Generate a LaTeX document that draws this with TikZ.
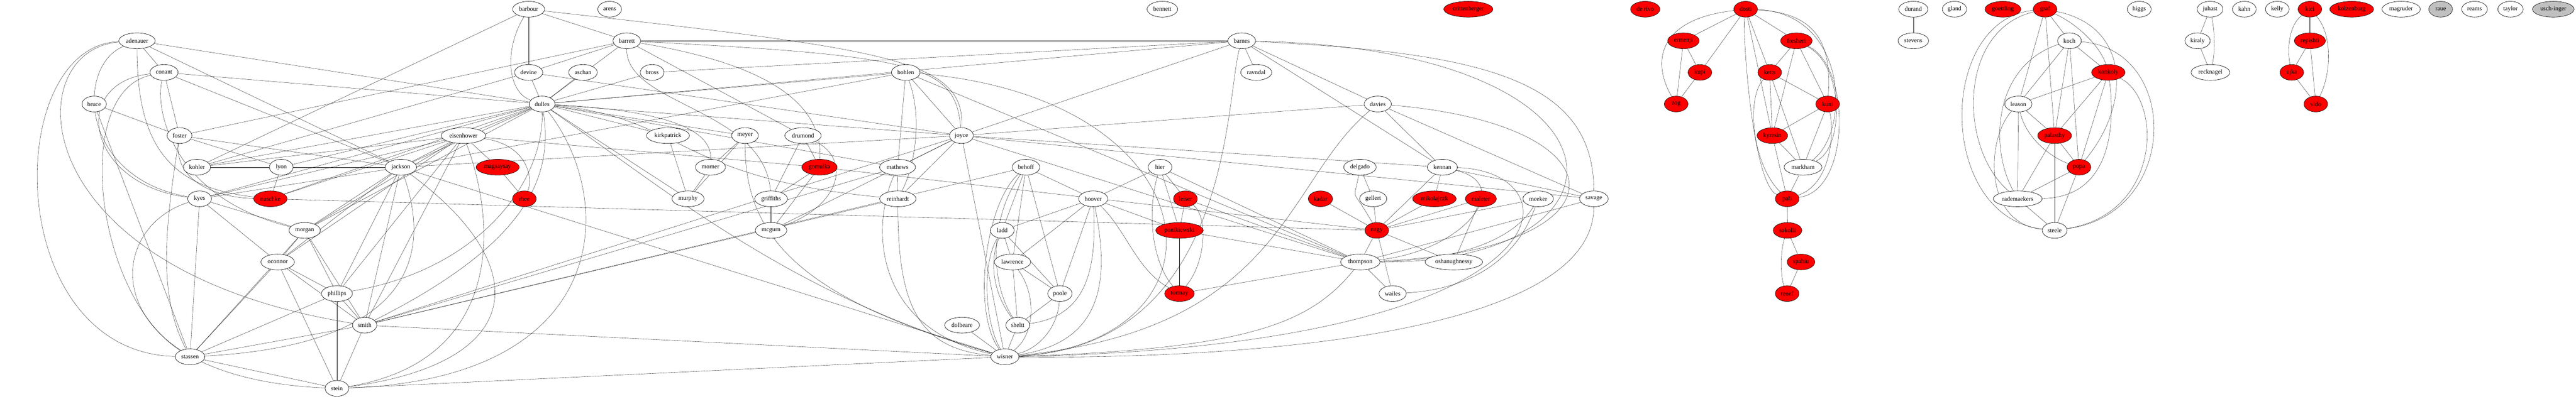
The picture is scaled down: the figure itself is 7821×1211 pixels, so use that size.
\documentclass[tikz,border=0pt]{standalone}
\usepackage{fontspec}
\setmainfont{Liberation Serif}
\usetikzlibrary{shapes.geometric}
\definecolor{gvgray}{RGB}{192,192,192}
\pgfdeclarelayer{edges}
\pgfsetlayers{edges,main}
\begin{document}
\begin{tikzpicture}[x=0.75pt,y=-0.75pt,line width=0.75pt,
  gv/.style={ellipse,draw,fill=white,minimum height=36pt,minimum width=54pt,inner xsep=4pt,inner ysep=2pt,font=\fontsize{14}{16}\selectfont},
  rednode/.style={gv,fill=red},
  greynode/.style={gv,fill=gvgray}]
\useasboundingbox (0,0) rectangle (7821,1211);

% row 0
\node[gv] (barbour) at (1605,28) {barbour};
\node[gv] (arens) at (1851,28) {arens};
\node[gv] (bennett) at (3529,28) {bennett};
\node[rednode] (crittenberger) at (4458,28) {crittenberger};
\node[rednode] (derivo) at (4995,28) {de rivo};
\node[rednode] (dosti) at (5300,28) {dosti};
\node[gv] (durand) at (5809,28) {durand};
\node[gv] (gland) at (5934,28) {gland};
\node[rednode] (goettling) at (6081,28) {goettling};
\node[rednode] (graf) at (6209,28) {graf};
\node[gv] (higgs) at (6495,28) {higgs};
\node[gv] (juhast) at (6710,28) {juhast};
\node[gv] (kahn) at (6814,28) {kahn};
\node[gv] (kelly) at (6914,28) {kelly};
\node[rednode] (kici) at (7013,28) {kici};
\node[rednode] (kolzenburg) at (7140,28) {kolzenburg};
\node[gv] (magruder) at (7290,28) {magruder};
\node[greynode] (raue) at (7410,28) {raue};
\node[gv] (reams) at (7513,28) {reams};
\node[gv] (taylor) at (7622,28) {taylor};
\node[greynode] (uschinger) at (7752,28) {usch-inger};

% row 1
\node[gv] (adenauer) at (416,124) {adenauer};
\node[gv] (barrett) at (1903,124) {barrett};
\node[gv] (barnes) at (3770,124) {barnes};
\node[rednode] (ermenji) at (5111,124) {ermenji};
\node[rednode] (fresheri) at (5454,124) {fresheri};
\node[gv] (stevens) at (5809,124) {stevens};
\node[gv] (koch) at (6283,124) {koch};
\node[gv] (kiraly) at (6672,124) {kiraly};
\node[rednode] (repishti) at (7013,124) {repishti};

% row 2
\node[gv] (conant) at (498,220) {conant};
\node[gv] (devine) at (1605,220) {devine};
\node[gv] (aschan) at (1770,220) {aschan};
\node[gv] (bross) at (1980,220) {bross};
\node[gv] (bohlen) at (2750,220) {bohlen};
\node[gv] (ravndal) at (3814,220) {ravndal};
\node[rednode] (kupi) at (5161,220) {kupi};
\node[rednode] (ketts) at (5373,220) {ketts};
\node[rednode] (konkoly) at (6401,220) {konkoly};
\node[gv] (recknagel) at (6711,220) {recknagel};
\node[rednode] (ujka) at (6958,220) {ujka};

% row 3
\node[gv] (bruce) at (286,316) {bruce};
\node[gv] (dulles) at (1646,316) {dulles};
\node[gv] (davies) at (4183,316) {davies};
\node[rednode] (zog) at (5089,316) {zog};
\node[rednode] (kuni) at (5549,316) {kuni};
\node[gv] (leason) at (6128,316) {leason};
\node[rednode] (vido) at (7031,316) {vido};

% row 4
\node[gv] (foster) at (545,412) {foster};
\node[gv] (eisenhower) at (1407,412) {eisenhower};
\node[gv] (kirkpatrick) at (2028,412) {kirkpatrick};
\node[gv] (meyer) at (2262,412) {meyer};
\node[gv] (drumond) at (2438,412) {drumond};
\node[gv] (joyce) at (2919,412) {joyce};
\node[rednode] (kyresin) at (5381,412) {kyresin};
\node[rednode] (palasthy) at (6238,412) {palasthy};

% row 5
\node[gv] (kohler) at (598,508) {kohler};
\node[gv] (lyon) at (854,508) {lyon};
\node[gv] (jackson) at (1217,508) {jackson};
\node[rednode] (magsaysay) at (1511,508) {magsaysay};
\node[gv] (morner) at (2157,508) {morner};
\node[rednode] (gomulka) at (2488,508) {gomulka};
\node[gv] (mathews) at (2725,508) {mathews};
\node[gv] (behoff) at (3115,508) {behoff};
\node[gv] (hier) at (3522,508) {hier};
\node[gv] (delgado) at (4129,508) {delgado};
\node[gv] (kennan) at (4379,508) {kennan};
\node[gv] (markham) at (5474,508) {markham};
\node[rednode] (popa) at (6312,508) {popa};

% row 6
\node[gv] (kyes) at (606,604) {kyes};
\node[rednode] (nuschke) at (821,604) {nuschke};
\node[rednode] (rhee) at (1592,604) {rhee};
\node[gv] (murphy) at (2089,604) {murphy};
\node[gv] (griffiths) at (2341,604) {griffiths};
\node[gv] (reinhardt) at (2726,604) {reinhardt};
\node[gv] (hoover) at (3319,604) {hoover};
\node[rednode] (leiser) at (3599,604) {leiser};
\node[rednode] (kadar) at (4009,604) {kadar};
\node[gv] (gellert) at (4169,604) {gellert};
\node[rednode] (mikolajczk) at (4355,604) {mikolajczk};
\node[rednode] (maleter) at (4496,604) {maleter};
\node[gv] (meeker) at (4670,604) {meeker};
\node[gv] (savage) at (4839,604) {savage};
\node[rednode] (pali) at (5426,604) {pali};
\node[gv] (rademaekers) at (6126,604) {rademaekers};

% row 7
\node[gv] (morgan) at (925,700) {morgan};
\node[gv] (mcgurn) at (2341,700) {mcgurn};
\node[gv] (ladd) at (3043,700) {ladd};
\node[rednode] (ponikiewski) at (3581,700) {ponikiewski};
\node[rednode] (nagy) at (4180,700) {nagy};
\node[rednode] (sokolli) at (5427,700) {sokolli};
\node[gv] (steele) at (6238,700) {steele};

% row 8
\node[gv] (oconnor) at (843,796) {oconnor};
\node[gv] (lawrence) at (3074,796) {lawrence};
\node[gv] (thompson) at (4130,796) {thompson};
\node[gv] (oshanughnessy) at (4414,796) {oshanughnessy};
\node[rednode] (spahiu) at (5468,796) {spahiu};

% row 9
\node[gv] (phillips) at (1023,892) {phillips};
\node[gv] (poole) at (3218,892) {poole};
\node[rednode] (tormay) at (3581,892) {tormay};
\node[gv] (wailes) at (4228,892) {wailes};
\node[rednode] (tenef) at (5426,892) {tenef};

% rows 10-12
\node[gv] (smith) at (1107,988) {smith};
\node[gv] (dolbeare) at (2921,988) {dolbeare};
\node[gv] (sheltt) at (3090,988) {sheltt};
\node[gv] (stassen) at (577,1084) {stassen};
\node[gv] (wisner) at (3051,1084) {wisner};
\node[gv] (stein) at (1023,1180) {stein};

\begin{pgfonlayer}{edges}
% left group
\draw (adenauer) -- (conant);
\draw (adenauer) -- (dulles);
\draw (adenauer) -- (jackson);
\draw (adenauer) .. controls (230,200) and (240,540) .. (kyes);
\draw (adenauer) .. controls (416,450) and (520,570) .. (nuschke);
\draw (adenauer) .. controls (6,140) and (6,1070) .. (stassen);
\draw (adenauer) .. controls (55,150) and (60,820) .. (smith);
\draw (conant) -- (dulles);
\draw (conant) -- (foster);
\draw (conant) .. controls (210,250) and (260,560) .. (kyes);
\draw (conant) .. controls (215,280) and (290,900) .. (stassen);
\draw (conant) -- (jackson);
\draw (conant) .. controls (470,330) and (520,600) .. (morgan);
\draw (bruce) -- (foster);
\draw (bruce) -- (stassen);
\draw (foster) -- (barrett);
\draw (foster) -- (jackson);
\draw (foster) -- (lyon);
\draw (foster) .. controls (500,700) and (480,900) .. (stassen);
\draw (foster) .. controls (530,540) and (640,600) .. (nuschke);
\draw (kohler) -- (barbour);
\draw (kohler) -- (devine);
\draw (kohler) -- (dulles);
\draw (kohler) -- (eisenhower);
\draw (kohler) -- (jackson);
\draw (kyes) -- (stassen);
\draw (kyes) -- (morgan);
\draw (kyes) -- (oconnor);
\draw (kyes) .. controls (300,700) and (300,1150) .. (stein);
\draw (kyes) -- (dulles);
\draw (kyes) -- (eisenhower);
\draw (lyon) -- (dulles);
\draw (lyon) -- (nuschke);
\draw (nuschke) -- (dulles);
\draw (nuschke) -- (eisenhower);
\draw (nuschke) -- (nagy);
\draw (barbour) -- (devine);
\draw (barbour) .. controls (1530,150) and (1540,280) .. (dulles);
\draw (barbour) -- (barrett);
\draw (barbour) .. controls (2700,150) and (2930,180) .. (joyce);
\draw (barrett) -- (devine);
\draw (barrett) -- (dulles);
\draw (barrett) .. controls (1900,320) and (2320,330) .. (griffiths);
\draw (barrett) .. controls (2300,190) and (2500,300) .. (gomulka);
\draw (barrett) -- (drumond);
\draw (barrett) -- (barnes);
\draw (barrett) .. controls (2800,170) and (2900,200) .. (joyce);
\draw (devine) -- (dulles);
\draw (devine) -- (joyce);
\draw (aschan) -- (dulles);
\draw (bross) -- (dulles);
\draw (bross) -- (barnes);
\draw (dulles) -- (barnes);
\draw (dulles) -- (bohlen);
\draw (dulles) -- (kirkpatrick);
\draw (dulles) -- (meyer);
\draw (dulles) .. controls (2100,340) and (2160,420) .. (morner);
\draw (dulles) .. controls (2080,360) and (2050,540) .. (reinhardt);
\draw (dulles) -- (joyce);
\draw (dulles) -- (murphy);
\draw (dulles) -- (mathews);
\draw (dulles) .. controls (2000,560) and (2400,900) .. (wisner);
\draw (dulles) .. controls (1870,600) and (1870,1150) .. (stein);
\draw (dulles) .. controls (1680,540) and (1600,740) .. (smith);
\draw (dulles) .. controls (1650,560) and (1450,820) .. (phillips);
\draw (dulles) -- (eisenhower);
\draw (dulles) -- (jackson);
\draw (dulles) -- (morgan);
\draw (eisenhower) -- (jackson);
\draw (eisenhower) -- (magsaysay);
\draw (eisenhower) .. controls (1600,440) and (1620,540) .. (rhee);
\draw (eisenhower) -- (morgan);
\draw (eisenhower) -- (oconnor);
\draw (eisenhower) -- (phillips);
\draw (eisenhower) -- (smith);
\draw (eisenhower) .. controls (1515,700) and (1515,1100) .. (stein);
\draw (eisenhower) -- (gomulka);
\draw (magsaysay) -- (rhee);
\draw (jackson) -- (bohlen);
\draw (jackson) -- (morgan);
\draw (jackson) -- (oconnor);
\draw (jackson) -- (phillips);
\draw (jackson) -- (smith);
\draw (jackson) .. controls (1320,800) and (1220,1050) .. (stassen);
\draw (jackson) .. controls (1615,800) and (1615,1100) .. (stein);
\draw (jackson) -- (wisner);
\draw (jackson) -- (kyes);
\draw (jackson) -- (joyce);
\draw (morgan) -- (oconnor);
\draw (morgan) -- (phillips);
\draw (morgan) -- (smith);
\draw (morgan) -- (stassen);
\draw (oconnor) -- (phillips);
\draw (oconnor) -- (smith);
\draw (oconnor) -- (stein);
\draw (oconnor) -- (stassen);
\draw (phillips) -- (smith);
\draw (phillips) -- (stein);
\draw (phillips) -- (stassen);
\draw (smith) -- (stein);
\draw (smith) -- (stassen);
\draw (smith) -- (wisner);
\draw (smith) -- (mathews);
\draw (smith) -- (reinhardt);
\draw (smith) -- (joyce);
\draw (smith) -- (behoff);
\draw (stein) -- (stassen);
\draw (stein) -- (wisner);
% middle group
\draw (bohlen) -- (joyce);
\draw (bohlen) -- (mathews);
\draw (bohlen) .. controls (2800,350) and (2780,500) .. (reinhardt);
\draw (bohlen) .. controls (3700,300) and (3760,1040) .. (wisner);
\draw (bohlen) -- (thompson);
\draw (joyce) -- (mathews);
\draw (joyce) -- (reinhardt);
\draw (joyce) -- (wisner);
\draw (joyce) -- (mcgurn);
\draw (joyce) -- (barnes);
\draw (joyce) -- (davies);
\draw (joyce) -- (kennan);
\draw (joyce) -- (savage);
\draw (joyce) -- (thompson);
\draw (mathews) -- (reinhardt);
\draw (mathews) .. controls (2640,700) and (2660,1000) .. (wisner);
\draw (reinhardt) .. controls (2726,950) and (2800,1060) .. (wisner);
\draw (drumond) -- (gomulka);
\draw (drumond) -- (griffiths);
\draw (drumond) .. controls (2580,480) and (2560,620) .. (mcgurn);
\draw (gomulka) -- (griffiths);
\draw (gomulka) -- (mcgurn);
\draw (gomulka) -- (nagy);
\draw (griffiths) -- (mcgurn);
\draw (meyer) -- (morner);
\draw (meyer) -- (murphy);
\draw (meyer) .. controls (2262,700) and (2400,900) .. (wisner);
\draw (morner) -- (murphy);
\draw (kirkpatrick) -- (murphy);
\draw (barnes) -- (ravndal);
\draw (barnes) -- (davies);
\draw (barnes) -- (kennan);
\draw (barnes) .. controls (5000,150) and (5000,800) .. (thompson);
\draw (barnes) .. controls (4500,160) and (4839,240) .. (savage);
\draw (barnes) .. controls (3720,300) and (3740,1050) .. (wisner);
\draw (davies) .. controls (3900,550) and (3900,1000) .. (wisner);
\draw (davies) -- (kennan);
\draw (davies) -- (savage);
\draw (davies) .. controls (4950,380) and (4950,760) .. (thompson);
\draw (kennan) -- (mikolajczk);
\draw (kennan) -- (nagy);
\draw (kennan) -- (savage);
\draw (kennan) .. controls (4600,560) and (4450,760) .. (thompson);
\draw (kennan) .. controls (4800,520) and (4790,1050) .. (wisner);
\draw (nagy) -- (kadar);
\draw (nagy) -- (gellert);
\draw (nagy) .. controls (4100,560) and (4110,620) .. (delgado);
\draw (nagy) -- (mikolajczk);
\draw (nagy) -- (maleter);
\draw (nagy) -- (meeker);
\draw (nagy) -- (thompson);
\draw (nagy) -- (wailes);
\draw (nagy) -- (oshanughnessy);
\draw (delgado) -- (gellert);
\draw (maleter) -- (oshanughnessy);
\draw (meeker) .. controls (4600,720) and (4450,790) .. (thompson);
\draw (meeker) .. controls (4600,800) and (4450,880) .. (wailes);
\draw (savage) -- (thompson);
\draw (savage) .. controls (4839,1050) and (3600,1090) .. (wisner);
\draw (thompson) -- (wailes);
\draw (thompson) -- (hier);
\draw (thompson) -- (leiser);
\draw (thompson) -- (ponikiewski);
\draw (thompson) -- (tormay);
\draw (thompson) .. controls (3980,980) and (3800,1060) .. (wisner);
\draw (hier) -- (hoover);
\draw (hier) -- (leiser);
\draw (hier) -- (ponikiewski);
\draw (hier) .. controls (3480,650) and (3500,800) .. (tormay);
\draw (leiser) -- (ponikiewski);
\draw (leiser) .. controls (3670,660) and (3660,800) .. (tormay);
\draw (ponikiewski) -- (tormay);
\draw (hoover) -- (ponikiewski);
\draw (hoover) .. controls (3420,700) and (3450,820) .. (tormay);
\draw (behoff) -- (hoover);
\draw (behoff) -- (poole);
\draw (behoff) -- (lawrence);
\draw (behoff) -- (ladd);
\draw (behoff) .. controls (2990,620) and (2950,950) .. (wisner);
\draw (behoff) .. controls (3010,650) and (3000,850) .. (sheltt);
\draw (hoover) -- (poole);
\draw (hoover) -- (lawrence);
\draw (hoover) -- (ladd);
\draw (hoover) .. controls (3330,820) and (3300,960) .. (sheltt);
\draw (hoover) .. controls (3370,850) and (3350,1040) .. (wisner);
\draw (ladd) -- (lawrence);
\draw (ladd) -- (poole);
\draw (ladd) .. controls (3000,800) and (3020,900) .. (sheltt);
\draw (ladd) .. controls (2980,800) and (2990,980) .. (wisner);
\draw (lawrence) -- (poole);
\draw (lawrence) -- (sheltt);
\draw (lawrence) .. controls (3150,900) and (3140,1020) .. (wisner);
\draw (poole) -- (sheltt);
\draw (poole) .. controls (3210,1000) and (3150,1060) .. (wisner);
\draw (sheltt) -- (wisner);
\draw (dolbeare) -- (wisner);
% albanian group
\draw (dosti) -- (ermenji);
\draw (dosti) .. controls (5020,60) and (5020,200) .. (zog);
\draw (dosti) -- (kupi);
\draw (dosti) -- (fresheri);
\draw (dosti) -- (ketts);
\draw (dosti) -- (kyresin);
\draw (dosti) .. controls (5290,100) and (5320,560) .. (pali);
\draw (dosti) .. controls (5530,40) and (5560,150) .. (kuni);
\draw (dosti) .. controls (5610,40) and (5620,400) .. (markham);
\draw (ermenji) -- (kupi);
\draw (ermenji) -- (zog);
\draw (kupi) -- (zog);
\draw (fresheri) -- (ketts);
\draw (fresheri) -- (kyresin);
\draw (fresheri) -- (kuni);
\draw (fresheri) .. controls (5600,200) and (5600,450) .. (markham);
\draw (fresheri) .. controls (5620,200) and (5620,580) .. (pali);
\draw (ketts) -- (kyresin);
\draw (ketts) -- (kuni);
\draw (ketts) -- (markham);
\draw (ketts) .. controls (5300,300) and (5320,500) .. (pali);
\draw (kyresin) -- (kuni);
\draw (kyresin) -- (markham);
\draw (kyresin) -- (pali);
\draw (kuni) -- (markham);
\draw (kuni) .. controls (5570,400) and (5560,560) .. (pali);
\draw (markham) -- (pali);
\draw (pali) -- (sokolli);
\draw (sokolli) -- (spahiu);
\draw (sokolli) .. controls (5405,760) and (5405,840) .. (tenef);
\draw (spahiu) -- (tenef);
% right groups
\draw (durand) -- (stevens);
\draw (graf) -- (koch);
\draw (graf) .. controls (6320,80) and (6380,150) .. (konkoly);
\draw (graf) -- (leason);
\draw (graf) -- (palasthy);
\draw (graf) .. controls (6470,80) and (6470,320) .. (popa);
\draw (graf) .. controls (5945,90) and (5945,450) .. (rademaekers);
\draw (graf) .. controls (5880,60) and (5880,660) .. (steele);
\draw (koch) -- (konkoly);
\draw (koch) -- (leason);
\draw (koch) -- (palasthy);
\draw (koch) -- (popa);
\draw (koch) .. controls (6050,200) and (6040,450) .. (rademaekers);
\draw (koch) .. controls (6620,150) and (6620,650) .. (steele);
\draw (konkoly) -- (leason);
\draw (konkoly) -- (palasthy);
\draw (konkoly) -- (popa);
\draw (konkoly) .. controls (6420,360) and (6420,600) .. (rademaekers);
\draw (konkoly) .. controls (6565,300) and (6565,650) .. (steele);
\draw (leason) -- (palasthy);
\draw (leason) .. controls (6150,420) and (6230,480) .. (popa);
\draw (leason) -- (rademaekers);
\draw (leason) .. controls (6030,420) and (6020,680) .. (steele);
\draw (palasthy) -- (popa);
\draw (palasthy) -- (rademaekers);
\draw (palasthy) -- (steele);
\draw (popa) -- (rademaekers);
\draw (popa) -- (steele);
\draw (rademaekers) -- (steele);
\draw (juhast) -- (kiraly);
\draw (kiraly) -- (recknagel);
\draw (juhast) .. controls (6725,100) and (6725,160) .. (recknagel);
\draw (kici) -- (repishti);
\draw (kici) .. controls (6945,80) and (6945,160) .. (ujka);
\draw (kici) .. controls (7080,100) and (7080,220) .. (vido);
\draw (repishti) -- (ujka);
\draw (repishti) -- (vido);
\draw (ujka) -- (vido);
\end{pgfonlayer}
\end{tikzpicture}
\end{document}
